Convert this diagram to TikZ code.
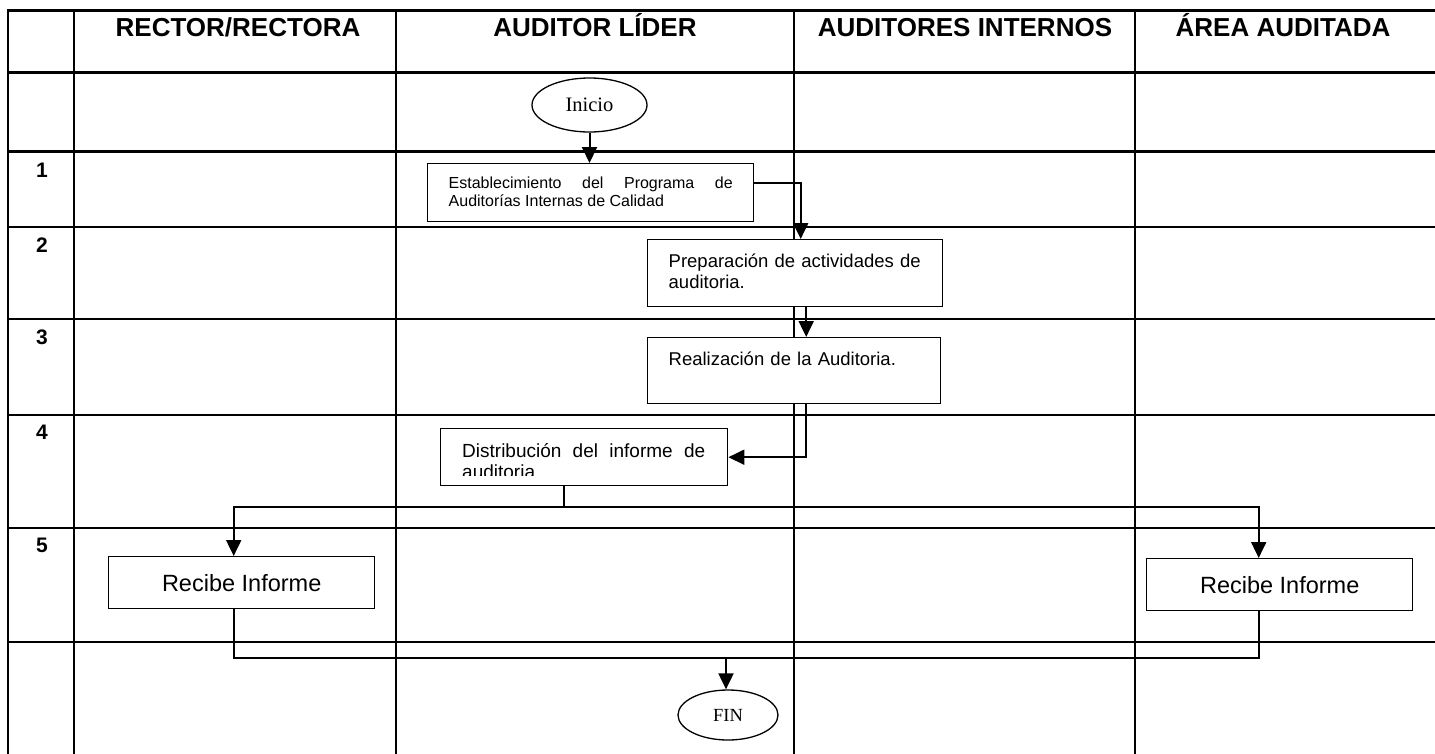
\documentclass[tikz,border=0pt]{standalone}
\usepackage{fontspec}
\setmainfont{Liberation Sans}
\newfontfamily\romana{Liberation Serif}
\usetikzlibrary{shapes.geometric, arrows.meta}
\hyphenpenalty=10000
\tolerance=10000

\begin{document}
\begin{tikzpicture}[x=1pt, y=-1pt,
  rejilla/.style={line width=2.2pt, line cap=rect},
  caja/.style={draw, fill=white, line width=1.4pt, inner xsep=21pt, inner ysep=0pt, anchor=north west},
  elipse/.style={ellipse, draw, fill=white, line width=1.3pt, inner sep=0pt},
  flecha/.style={line width=2pt, -{Triangle[length=16pt, width=15pt]}},
  linea/.style={line width=2pt},
  titulo/.style={anchor=base, font=\fontsize{26}{30}\selectfont\bfseries},
  numero/.style={anchor=base, font=\fontsize{21}{25}\selectfont\bfseries}]

\useasboundingbox (0,0) rectangle (1435,753);

% tabla
\foreach \y in {10.5, 72.5, 151.5, 227, 319, 415, 528, 642}
  \draw[rejilla] (8,\y) -- (1435,\y);
\foreach \x in {8, 74, 396, 794, 1135}
  \draw[rejilla] (\x,10.5) -- (\x,753);

\node[titulo] (t1) at (238,36) {RECTOR/RECTORA};
\node[titulo] (t2) at (595,36) {AUDITOR LÍDER};
\node[titulo] (t3) at (965,36) {AUDITORES INTERNOS};
\node[titulo] (t4) at (1283,36) {ÁREA AUDITADA};

\foreach \n/\y in {1/177, 2/252, 3/344, 4/439, 5/552}
  \node[numero] (num\n) at (42,\y) {\n};

% pasos
\node[elipse, minimum width=115pt, minimum height=54pt, font=\romana\fontsize{20.5}{24}\selectfont] (inicio) at (589.5,105) {Inicio};

\node[caja, text width=284pt, text height=25pt, text depth=33pt, align=justify, font=\fontsize{16}{17.5}\selectfont] (est) at (427,163) {Establecimiento del Programa de Auditorías Internas de Calidad};

\node[caja, text width=253pt, text height=28pt, text depth=39pt, align=left, font=\fontsize{18.5}{21}\selectfont] (prep) at (647,239) {Preparación de actividades de auditoria.};

\node[caja, text width=251pt, text height=28pt, text depth=38pt, align=left, font=\fontsize{18.5}{21}\selectfont] (real) at (647,337) {Realización de la Auditoria.};

\node[caja, minimum width=287pt, minimum height=57pt] (dist) at (440,428) {};
\begin{scope}
  \clip (dist.north west) rectangle ([yshift=11pt]dist.south east);
  \node[anchor=north west, inner sep=0pt, text width=243pt, text height=29pt, align=justify, font=\fontsize{19}{21}\selectfont] (distt) at ([xshift=22pt]dist.north west) {Distribución del informe de auditoria};
\end{scope}

\node[caja, minimum width=266pt, minimum height=52pt, inner xsep=0pt, align=center, font=\fontsize{23.5}{27}\selectfont] (rec1) at (108,556) {Recibe Informe};
\node[caja, minimum width=266pt, minimum height=52pt, inner xsep=0pt, align=center, font=\fontsize{23.5}{27}\selectfont] (rec2) at (1146,558) {Recibe Informe};

\node[elipse, minimum width=100pt, minimum height=50pt, font=\romana\fontsize{18.5}{22}\selectfont] (fin) at (728,715) {FIN};

% conectores
\draw[flecha] (inicio) -- (inicio |- est.north);
\draw[flecha] ([yshift=10pt]est.east) -| ([xshift=5.5pt]prep.north);
\draw[flecha] ([xshift=11pt]prep.south) -- ([xshift=11pt]prep.south |- real.north);
\draw[flecha] ([xshift=12pt]real.south) |- (dist.east);

\coordinate (reparto) at (564,507);
\draw[linea] (reparto |- dist.south) -- (reparto);
\draw[flecha] (reparto) -| ([xshift=-8pt]rec1.north);
\draw[flecha] (reparto) -| ([xshift=-21pt]rec2.north);

\coordinate (union) at (726,658);
\draw[linea] ([xshift=-8pt]rec1.south) |- (union) -| ([xshift=-21pt]rec2.south);
\draw[flecha] (union) -- (union |- fin.north);

\end{tikzpicture}
\end{document}
